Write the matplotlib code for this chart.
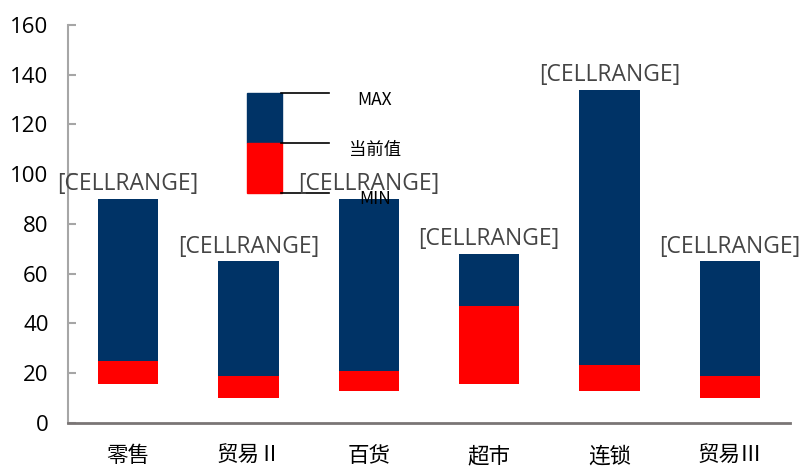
import matplotlib
matplotlib.use('Agg')
import matplotlib.pyplot as plt
from matplotlib.patches import Rectangle
from matplotlib.lines import Line2D
import numpy as np

plt.rcParams['font.family'] = ['Open Sans', 'Noto Sans CJK SC', 'DejaVu Sans']

# 各业态的最小值、当前值、最大值
categories = ['零售', '贸易Ⅱ', '百货', '超市', '连锁', '贸易Ⅲ']
min_vals = [15.5, 10, 13, 15.5, 13, 10]
cur_vals = [25, 19, 21, 47, 23.5, 19]
max_vals = [90, 65, 90, 68, 134, 65]

navy = '#003366'
red = '#ff0000'

fig = plt.figure(figsize=(8, 4.68), dpi=100)
ax = fig.add_axes([0.085, 0.0962, 0.9025, 0.8504])

x = np.arange(len(categories))
lo = np.array(min_vals)
cur = np.array(cur_vals)
hi = np.array(max_vals)

# 堆叠柱: 透明底 + 红色(当前值-最小值) + 深蓝(最大值-当前值)
ax.bar(x, cur - lo, bottom=lo, width=0.5, color=red, zorder=2)
ax.bar(x, hi - cur, bottom=cur, width=0.5, color=navy, zorder=2)

for xi, h in zip(x, hi):
    ax.annotate('[CELLRANGE]', (xi, h), xytext=(0, 2), textcoords='offset points',
                ha='center', va='bottom', fontsize=16.5, color='#454545', zorder=6)

ax.set_xlim(-0.5, 5.5)
ax.set_ylim(0, 160)
ax.set_yticks(range(0, 161, 20))
ax.set_xticks(x)
ax.set_xticklabels(categories, fontsize=15.5, family=['Noto Sans CJK JP', 'DejaVu Sans'])
ax.tick_params(axis='x', length=0, pad=16)
ax.tick_params(axis='y', direction='in', length=6, width=1.5, color='#a6a6a6',
               labelsize=16, pad=14)

for s in ['top', 'right']:
    ax.spines[s].set_visible(False)
ax.spines['left'].set_color('#a6a6a6')
ax.spines['left'].set_linewidth(1.5)
ax.spines['bottom'].set_color('#7a7575')
ax.spines['bottom'].set_linewidth(2)


# 自制图例 (像素位置换算到坐标轴坐标)
def ax_xy(px, py):
    return (px - 68) / 722, (423 - py) / 398


x0, y0 = ax_xy(247, 143)
x1, y1 = ax_xy(282, 93)
ax.add_patch(Rectangle((x0, y0), x1 - x0, y1 - y0, transform=ax.transAxes,
                       color=navy, zorder=4, clip_on=False))
x0, y0 = ax_xy(247, 193)
x1, y1 = ax_xy(282, 143)
ax.add_patch(Rectangle((x0, y0), x1 - x0, y1 - y0, transform=ax.transAxes,
                       color=red, zorder=4, clip_on=False))

for py, txt, ty in [(93, 'MAX', 100), (143, '当前值', 150), (193, 'MIN', 199)]:
    lx0, ly = ax_xy(281, py)
    lx1, _ = ax_xy(329, py)
    ax.add_line(Line2D([lx0, lx1], [ly, ly], transform=ax.transAxes,
                       color='black', lw=1.2, zorder=4))
    tx, tyy = ax_xy(375, ty)
    ax.text(tx, tyy, txt, transform=ax.transAxes, ha='center', va='center',
            fontsize=12.5, color='black', zorder=5,
            family=['Noto Sans CJK SC', 'DejaVu Sans'])

fig.savefig('out.png', dpi=100)
